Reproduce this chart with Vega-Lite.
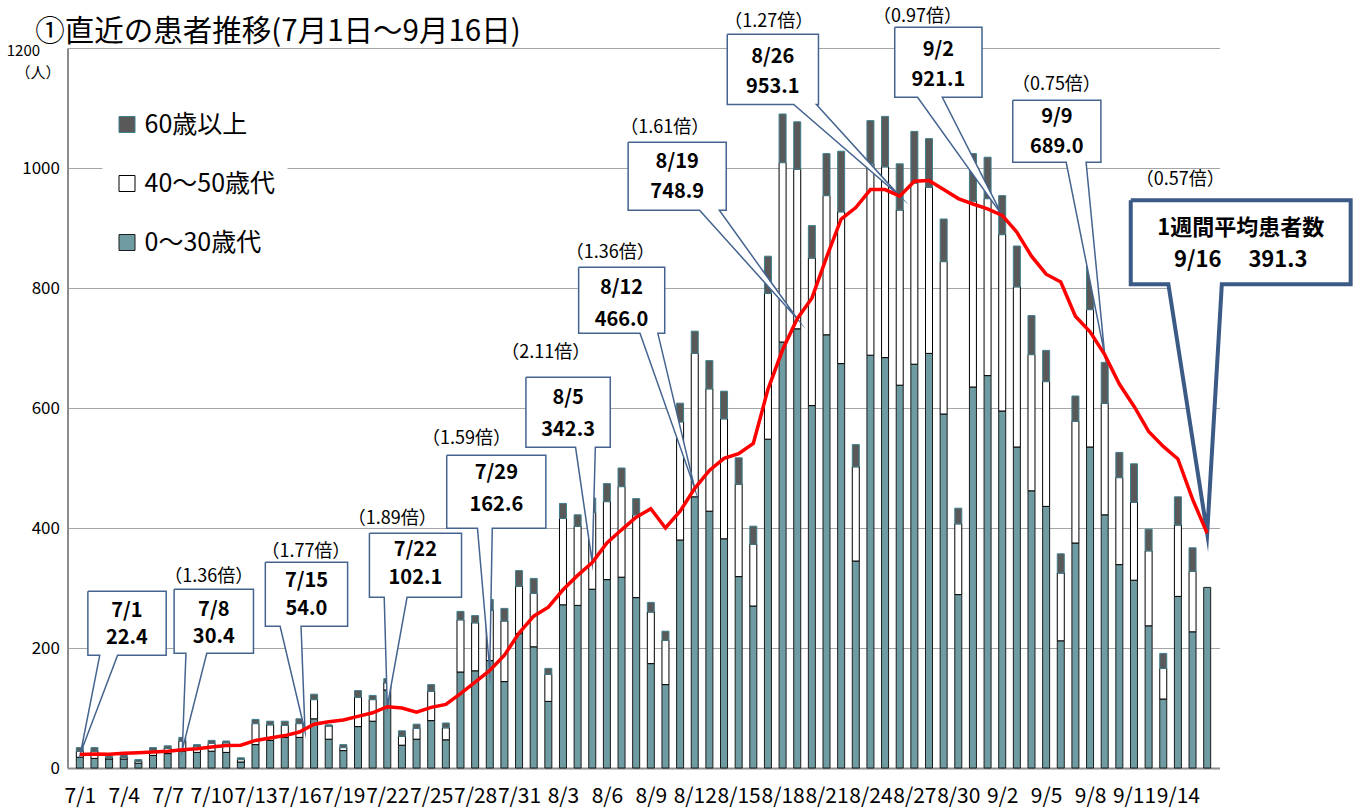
{
  "$schema": "https://vega.github.io/schema/vega-lite/v6.json",
  "width": 1152,
  "height": 720,
  "autosize": {"type": "none"},
  "padding": {"left": 67.5, "top": 48, "right": 144.5, "bottom": 39},
  "background": "white",
  "config": {
    "view": {"stroke": null},
    "font": "Noto Sans CJK JP",
    "axisX": {"grid": false, "ticks": false, "domainColor": "#8c8c8c", "domainWidth": 2, "labelFontSize": 21, "labelFont": "Noto Sans CJK JP", "labelColor": "#000000", "labelPadding": 17, "labelOverlap": false, "labelFlush": false, "labelBound": false},
    "axisY": {"grid": true, "gridColor": "#a6a6a6", "gridWidth": 1, "ticks": false, "domainColor": "#8c8c8c", "domainWidth": 2, "labelFontSize": 17, "labelFont": "Noto Sans CJK JP", "labelColor": "#000000", "labelPadding": 8, "titleAngle": 0, "titleX": -30, "titleY": 24, "titleFontSize": 15, "titleFontWeight": "normal", "titleAlign": "center", "titleBaseline": "middle", "titleColor": "#000000", "titleFont": "Noto Sans CJK JP"}
  },
  "datasets": {
    "days": [
      {"d":1,"g0":18,"g40":10,"g60":6,"avg":22.4},
      {"d":2,"g0":16,"g40":12,"g60":6,"avg":23.5},
      {"d":3,"g0":15,"g40":2,"g60":3,"avg":23},
      {"d":4,"g0":15,"g40":3,"g60":4,"avg":24.5},
      {"d":5,"g0":8,"g40":3,"g60":3,"avg":25.5},
      {"d":6,"g0":21,"g40":8,"g60":5,"avg":26.5},
      {"d":7,"g0":24,"g40":9,"g60":4,"avg":28},
      {"d":8,"g0":28,"g40":17,"g60":6,"avg":30.4},
      {"d":9,"g0":26,"g40":10,"g60":3,"avg":32},
      {"d":10,"g0":28,"g40":13,"g60":5,"avg":35},
      {"d":11,"g0":26,"g40":16,"g60":3,"avg":37.5},
      {"d":12,"g0":10,"g40":4,"g60":3,"avg":38},
      {"d":13,"g0":39,"g40":35,"g60":7,"avg":46},
      {"d":14,"g0":46,"g40":26,"g60":6,"avg":50},
      {"d":15,"g0":51,"g40":20,"g60":7,"avg":54.0},
      {"d":16,"g0":51,"g40":23,"g60":8,"avg":60},
      {"d":17,"g0":82,"g40":32,"g60":9,"avg":73},
      {"d":18,"g0":48,"g40":22,"g60":2,"avg":77},
      {"d":19,"g0":29,"g40":5,"g60":5,"avg":80},
      {"d":20,"g0":69,"g40":49,"g60":11,"avg":86},
      {"d":21,"g0":78,"g40":36,"g60":7,"avg":92},
      {"d":22,"g0":130,"g40":12,"g60":7,"avg":102.1},
      {"d":23,"g0":38,"g40":15,"g60":9,"avg":100},
      {"d":24,"g0":48,"g40":18,"g60":7,"avg":93},
      {"d":25,"g0":79,"g40":49,"g60":11,"avg":101},
      {"d":26,"g0":47,"g40":20,"g60":8,"avg":106},
      {"d":27,"g0":160,"g40":87,"g60":14,"avg":124},
      {"d":28,"g0":162,"g40":80,"g60":12,"avg":143},
      {"d":29,"g0":179,"g40":84,"g60":18,"avg":162.6},
      {"d":30,"g0":144,"g40":101,"g60":21,"avg":188},
      {"d":31,"g0":224,"g40":79,"g60":26,"avg":225},
      {"d":32,"g0":202,"g40":89,"g60":25,"avg":253},
      {"d":33,"g0":111,"g40":45,"g60":10,"avg":268},
      {"d":34,"g0":272,"g40":144,"g60":25,"avg":297},
      {"d":35,"g0":271,"g40":132,"g60":19,"avg":321},
      {"d":36,"g0":298,"g40":128,"g60":24,"avg":342.3},
      {"d":37,"g0":314,"g40":130,"g60":30,"avg":375},
      {"d":38,"g0":318,"g40":151,"g60":31,"avg":397},
      {"d":39,"g0":284,"g40":138,"g60":27,"avg":418},
      {"d":40,"g0":174,"g40":86,"g60":16,"avg":432},
      {"d":41,"g0":139,"g40":74,"g60":15,"avg":400},
      {"d":42,"g0":380,"g40":197,"g60":31,"avg":428},
      {"d":43,"g0":452,"g40":239,"g60":37,"avg":466.0},
      {"d":44,"g0":428,"g40":204,"g60":47,"avg":496},
      {"d":45,"g0":382,"g40":200,"g60":46,"avg":516},
      {"d":46,"g0":319,"g40":154,"g60":44,"avg":524},
      {"d":47,"g0":270,"g40":103,"g60":30,"avg":541},
      {"d":48,"g0":548,"g40":243,"g60":62,"avg":631},
      {"d":49,"g0":710,"g40":299,"g60":81,"avg":697},
      {"d":50,"g0":732,"g40":266,"g60":79,"avg":748.9},
      {"d":51,"g0":604,"g40":246,"g60":54,"avg":783},
      {"d":52,"g0":722,"g40":232,"g60":70,"avg":851},
      {"d":53,"g0":674,"g40":253,"g60":101,"avg":915},
      {"d":54,"g0":345,"g40":157,"g60":37,"avg":934},
      {"d":55,"g0":688,"g40":319,"g60":72,"avg":964},
      {"d":56,"g0":684,"g40":318,"g60":84,"avg":964},
      {"d":57,"g0":638,"g40":292,"g60":77,"avg":953.1},
      {"d":58,"g0":673,"g40":302,"g60":86,"avg":978},
      {"d":59,"g0":691,"g40":277,"g60":81,"avg":979},
      {"d":60,"g0":590,"g40":254,"g60":71,"avg":964},
      {"d":61,"g0":289,"g40":118,"g60":26,"avg":949},
      {"d":62,"g0":635,"g40":310,"g60":79,"avg":940},
      {"d":63,"g0":654,"g40":295,"g60":69,"avg":932},
      {"d":64,"g0":595,"g40":294,"g60":65,"avg":921.1},
      {"d":65,"g0":535,"g40":267,"g60":68,"avg":893},
      {"d":66,"g0":462,"g40":227,"g60":65,"avg":853},
      {"d":67,"g0":436,"g40":208,"g60":52,"avg":823},
      {"d":68,"g0":212,"g40":113,"g60":32,"avg":810},
      {"d":69,"g0":375,"g40":203,"g60":42,"avg":753},
      {"d":70,"g0":535,"g40":229,"g60":84,"avg":727},
      {"d":71,"g0":422,"g40":186,"g60":68,"avg":689.0},
      {"d":72,"g0":339,"g40":145,"g60":42,"avg":640},
      {"d":73,"g0":313,"g40":130,"g60":64,"avg":603},
      {"d":74,"g0":237,"g40":125,"g60":36,"avg":561},
      {"d":75,"g0":115,"g40":51,"g60":25,"avg":536},
      {"d":76,"g0":286,"g40":119,"g60":47,"avg":515},
      {"d":77,"g0":227,"g40":101,"g60":39,"avg":448},
      {"d":78,"g0":301,"g40":0,"g60":0,"avg":391.3}
    ],
    "callouts": [
      {"c":1,"k":0,"x":1.55,"y":294.5},{"c":1,"k":1,"x":6.90,"y":294.5},{"c":1,"k":2,"x":6.90,"y":187.8},{"c":1,"k":3,"x":3.58,"y":187.8},{"c":1,"k":4,"x":1.05,"y":25},{"c":1,"k":5,"x":2.36,"y":187.8},{"c":1,"k":6,"x":1.55,"y":187.8},{"c":1,"k":7,"x":1.55,"y":294.5},
      {"c":2,"k":0,"x":7.44,"y":297.8},{"c":2,"k":1,"x":12.86,"y":297.8},{"c":2,"k":2,"x":12.86,"y":191.2},{"c":2,"k":3,"x":9.67,"y":191.2},{"c":2,"k":4,"x":8.0,"y":30.4},{"c":2,"k":5,"x":8.25,"y":191.2},{"c":2,"k":6,"x":7.44,"y":191.2},{"c":2,"k":7,"x":7.44,"y":297.8},
      {"c":3,"k":0,"x":13.67,"y":342.8},{"c":3,"k":1,"x":19.29,"y":342.8},{"c":3,"k":2,"x":19.29,"y":236.2},{"c":3,"k":3,"x":16.11,"y":236.2},{"c":3,"k":4,"x":16.38,"y":61.2},{"c":3,"k":5,"x":14.68,"y":236.2},{"c":3,"k":6,"x":13.67,"y":236.2},{"c":3,"k":7,"x":13.67,"y":342.8},
      {"c":4,"k":0,"x":20.78,"y":391.2},{"c":4,"k":1,"x":27.07,"y":391.2},{"c":4,"k":2,"x":27.07,"y":284.5},{"c":4,"k":3,"x":23.35,"y":284.5},{"c":4,"k":4,"x":22.0,"y":102.1},{"c":4,"k":5,"x":21.79,"y":284.5},{"c":4,"k":6,"x":20.78,"y":284.5},{"c":4,"k":7,"x":20.78,"y":391.2},
      {"c":5,"k":0,"x":26.06,"y":521.2},{"c":5,"k":1,"x":32.83,"y":521.2},{"c":5,"k":2,"x":32.83,"y":399.5},{"c":5,"k":3,"x":29.17,"y":399.5},{"c":5,"k":4,"x":29.0,"y":162.6},{"c":5,"k":5,"x":28.16,"y":399.5},{"c":5,"k":6,"x":26.06,"y":399.5},{"c":5,"k":7,"x":26.06,"y":521.2},
      {"c":6,"k":0,"x":31.47,"y":651.2},{"c":6,"k":1,"x":37.23,"y":651.2},{"c":6,"k":2,"x":37.23,"y":534.5},{"c":6,"k":3,"x":36.21,"y":534.5},{"c":6,"k":4,"x":36.0,"y":342.3},{"c":6,"k":5,"x":34.86,"y":534.5},{"c":6,"k":6,"x":31.47,"y":534.5},{"c":6,"k":7,"x":31.47,"y":651.2},
      {"c":7,"k":0,"x":35.07,"y":834.5},{"c":7,"k":1,"x":40.95,"y":834.5},{"c":7,"k":2,"x":40.95,"y":724.5},{"c":7,"k":3,"x":40.48,"y":724.5},{"c":7,"k":4,"x":43.0,"y":466.0},{"c":7,"k":5,"x":39.26,"y":724.5},{"c":7,"k":6,"x":35.07,"y":724.5},{"c":7,"k":7,"x":35.07,"y":834.5},
      {"c":8,"k":0,"x":38.45,"y":1042.8},{"c":8,"k":1,"x":45.15,"y":1042.8},{"c":8,"k":2,"x":45.15,"y":929.5},{"c":8,"k":3,"x":44.68,"y":929.5},{"c":8,"k":4,"x":50.0,"y":748.9},{"c":8,"k":5,"x":43.33,"y":929.5},{"c":8,"k":6,"x":38.45,"y":929.5},{"c":8,"k":7,"x":38.45,"y":1042.8},
      {"c":9,"k":0,"x":45.22,"y":1222.8},{"c":9,"k":1,"x":51.45,"y":1222.8},{"c":9,"k":2,"x":51.45,"y":1105.8},{"c":9,"k":3,"x":51.31,"y":1105.8},{"c":9,"k":4,"x":57.0,"y":953.1},{"c":9,"k":5,"x":49.76,"y":1105.8},{"c":9,"k":6,"x":45.22,"y":1105.8},{"c":9,"k":7,"x":45.22,"y":1222.8},
      {"c":10,"k":0,"x":56.66,"y":1234.5},{"c":10,"k":1,"x":62.62,"y":1234.5},{"c":10,"k":2,"x":62.62,"y":1117.8},{"c":10,"k":3,"x":59.91,"y":1117.8},{"c":10,"k":4,"x":64.0,"y":921.1},{"c":10,"k":5,"x":58.22,"y":1117.8},{"c":10,"k":6,"x":56.66,"y":1117.8},{"c":10,"k":7,"x":56.66,"y":1234.5},
      {"c":11,"k":0,"x":64.72,"y":1112.8},{"c":11,"k":1,"x":70.74,"y":1112.8},{"c":11,"k":2,"x":70.74,"y":1009.5},{"c":11,"k":3,"x":69.73,"y":1009.5},{"c":11,"k":4,"x":71.0,"y":689.0},{"c":11,"k":5,"x":68.37,"y":1009.5},{"c":11,"k":6,"x":64.72,"y":1009.5},{"c":11,"k":7,"x":64.72,"y":1112.8}
    ],
    "callout12": [
      {"c":12,"k":0,"x":72.78,"y":946.2},{"c":12,"k":1,"x":87.8,"y":946.2},{"c":12,"k":2,"x":87.8,"y":806.2},{"c":12,"k":3,"x":79.0,"y":806.2},{"c":12,"k":4,"x":78.0,"y":391.3},{"c":12,"k":5,"x":75.35,"y":806.2},{"c":12,"k":6,"x":72.78,"y":806.2},{"c":12,"k":7,"x":72.78,"y":946.2}
    ],
    "boxtext": [
      {"x":4.22,"y":261,"t":"7/1"},{"x":4.22,"y":216,"t":"22.4"},
      {"x":10.15,"y":264,"t":"7/8"},{"x":10.15,"y":219,"t":"30.4"},
      {"x":16.48,"y":312,"t":"7/15"},{"x":16.48,"y":265,"t":"54.0"},
      {"x":23.92,"y":362.8,"t":"7/22"},{"x":23.92,"y":316.2,"t":"102.1"},
      {"x":29.45,"y":491.2,"t":"7/29"},{"x":29.45,"y":437.8,"t":"162.6"},
      {"x":34.35,"y":616.2,"t":"8/5"},{"x":34.35,"y":562.8,"t":"342.3"},
      {"x":38.0,"y":799.5,"t":"8/12"},{"x":38.0,"y":746.2,"t":"466.0"},
      {"x":41.8,"y":1009.5,"t":"8/19"},{"x":41.8,"y":959.5,"t":"748.9"},
      {"x":48.33,"y":1184.5,"t":"8/26"},{"x":48.33,"y":1134.5,"t":"953.1"},
      {"x":59.64,"y":1196.2,"t":"9/2"},{"x":59.64,"y":1146.2,"t":"921.1"},
      {"x":67.73,"y":1084.5,"t":"9/9"},{"x":67.73,"y":1034.5,"t":"689.0"}
    ],
    "boxtext12": [
      {"x":80.29,"y":899.5,"t":"1週間平均患者数"},{"x":80.29,"y":846.2,"t":"9/16　 391.3"}
    ],
    "ratios": [
      {"x":9.81,"y":317.8,"t":"（1.36倍）"},
      {"x":16.44,"y":359.5,"t":"（1.77倍）"},
      {"x":22.34,"y":414.5,"t":"（1.89倍）"},
      {"x":27.41,"y":547.8,"t":"（1.59倍）"},
      {"x":32.83,"y":691.2,"t":"（2.11倍）"},
      {"x":37.23,"y":857.8,"t":"（1.36倍）"},
      {"x":40.95,"y":1066.2,"t":"（1.61倍）"},
      {"x":48.06,"y":1244,"t":"（1.27倍）"},
      {"x":58.22,"y":1252,"t":"（0.97倍）"},
      {"x":67.7,"y":1137.8,"t":"（0.75倍）"},
      {"x":76.16,"y":979.5,"t":"（0.57倍）"}
    ],
    "heading": [
      {"x":-2.04,"y":1226,"t":"①直近の患者推移(7月1日〜9月16日)"}
    ],
    "toplabel": [
      {"x":-2.85,"y":1195,"t":"1200"}
    ]
  },
  "layer": [
    {
      "data": {"name": "days"},
      "transform": [{"fold": ["g0", "g40", "g60"], "as": ["grp", "n"]}, {"filter": "datum.n > 0"}],
      "mark": {"type": "bar", "width": 7, "strokeWidth": 1},
      "encoding": {
        "x": {"field": "d", "type": "quantitative", "scale": {"domain": [0.5, 78.5], "nice": false, "zero": false},
          "axis": {"values": [1,4,7,10,13,16,19,22,25,28,31,34,37,40,43,46,49,52,55,58,61,64,67,70,73,76], "labelExpr": "timeFormat(datetime(2021, 6, datum.value), '%-m/%-d')", "title": null}},
        "y": {"field": "n", "type": "quantitative", "stack": "zero", "scale": {"domain": [0, 1200], "nice": false},
          "axis": {"values": [0,200,400,600,800,1000,1200], "labelExpr": "datum.value == 1200 ? '' : format(datum.value, 'd')", "title": "（人）"}},
        "color": {"field": "grp", "type": "nominal",
          "scale": {"domain": ["g60", "g40", "g0"], "range": ["#595959", "#ffffff", "#6e9ca2"]},
          "legend": {"orient": "none", "legendX": 35, "legendY": 52, "title": null, "labelFontSize": 25, "labelFont": "Noto Sans CJK JP",
            "labelColor": "#000000", "symbolType": "square", "symbolSize": 256, "symbolStrokeWidth": 1, "rowPadding": 33,
            "padding": 12, "fillColor": "white", "labelOffset": 5,
            "labelExpr": "datum.label == 'g60' ? '60歳以上' : datum.label == 'g40' ? '40〜50歳代' : '0〜30歳代'"}},
        "stroke": {"field": "grp", "type": "nominal",
          "scale": {"domain": ["g60", "g40", "g0"], "range": ["#3f7f8c", "#000000", "#1d1d1d"]},
          "legend": {"orient": "none", "legendX": 35, "legendY": 52, "title": null, "labelFontSize": 25, "labelFont": "Noto Sans CJK JP",
            "labelColor": "#000000", "symbolType": "square", "symbolSize": 256, "symbolStrokeWidth": 1, "rowPadding": 33,
            "padding": 12, "fillColor": "white", "labelOffset": 5,
            "labelExpr": "datum.label == 'g60' ? '60歳以上' : datum.label == 'g40' ? '40〜50歳代' : '0〜30歳代'"}},
        "order": {"field": "grp", "sort": "ascending"}
      }
    },
    {
      "data": {"name": "callouts"},
      "mark": {"type": "line", "fill": "white", "stroke": "#44648f", "strokeWidth": 1.5, "strokeJoin": "miter", "strokeMiterLimit": 20},
      "encoding": {
        "x": {"field": "x", "type": "quantitative", "scale": {"domain": [0.5, 78.5], "nice": false, "zero": false},
          "axis": {"values": [1,4,7,10,13,16,19,22,25,28,31,34,37,40,43,46,49,52,55,58,61,64,67,70,73,76], "labelExpr": "timeFormat(datetime(2021, 6, datum.value), '%-m/%-d')", "title": null}},
        "y": {"field": "y", "type": "quantitative", "scale": {"domain": [0, 1200], "nice": false},
          "axis": {"values": [0,200,400,600,800,1000,1200], "labelExpr": "datum.value == 1200 ? '' : format(datum.value, 'd')", "title": "（人）"}},
        "detail": {"field": "c", "type": "nominal"},
        "order": {"field": "k", "type": "quantitative"}
      }
    },
    {
      "data": {"name": "callout12"},
      "mark": {"type": "line", "fill": "white", "stroke": "#3b5a85", "strokeWidth": 4, "strokeJoin": "miter", "strokeMiterLimit": 20},
      "encoding": {
        "x": {"field": "x", "type": "quantitative", "scale": {"domain": [0.5, 78.5], "nice": false, "zero": false},
          "axis": {"values": [1,4,7,10,13,16,19,22,25,28,31,34,37,40,43,46,49,52,55,58,61,64,67,70,73,76], "labelExpr": "timeFormat(datetime(2021, 6, datum.value), '%-m/%-d')", "title": null}},
        "y": {"field": "y", "type": "quantitative", "scale": {"domain": [0, 1200], "nice": false},
          "axis": {"values": [0,200,400,600,800,1000,1200], "labelExpr": "datum.value == 1200 ? '' : format(datum.value, 'd')", "title": "（人）"}},
        "order": {"field": "k", "type": "quantitative"}
      }
    },
    {
      "data": {"name": "days"},
      "mark": {"type": "line", "color": "#ff0000", "strokeWidth": 3.5},
      "encoding": {
        "x": {"field": "d", "type": "quantitative", "scale": {"domain": [0.5, 78.5], "nice": false, "zero": false},
          "axis": {"values": [1,4,7,10,13,16,19,22,25,28,31,34,37,40,43,46,49,52,55,58,61,64,67,70,73,76], "labelExpr": "timeFormat(datetime(2021, 6, datum.value), '%-m/%-d')", "title": null}},
        "y": {"field": "avg", "type": "quantitative", "scale": {"domain": [0, 1200], "nice": false},
          "axis": {"values": [0,200,400,600,800,1000,1200], "labelExpr": "datum.value == 1200 ? '' : format(datum.value, 'd')", "title": "（人）"}}
      }
    },
    {
      "data": {"name": "boxtext"},
      "mark": {"type": "text", "fontSize": 20, "fontWeight": "bold", "font": "Noto Sans CJK JP", "align": "center", "baseline": "middle", "color": "#000000"},
      "encoding": {
        "x": {"field": "x", "type": "quantitative", "scale": {"domain": [0.5, 78.5], "nice": false, "zero": false},
          "axis": {"values": [1,4,7,10,13,16,19,22,25,28,31,34,37,40,43,46,49,52,55,58,61,64,67,70,73,76], "labelExpr": "timeFormat(datetime(2021, 6, datum.value), '%-m/%-d')", "title": null}},
        "y": {"field": "y", "type": "quantitative", "scale": {"domain": [0, 1200], "nice": false},
          "axis": {"values": [0,200,400,600,800,1000,1200], "labelExpr": "datum.value == 1200 ? '' : format(datum.value, 'd')", "title": "（人）"}},
        "text": {"field": "t"}
      }
    },
    {
      "data": {"name": "boxtext12"},
      "mark": {"type": "text", "fontSize": 22, "fontWeight": "bold", "font": "Noto Sans CJK JP", "align": "center", "baseline": "middle", "color": "#000000"},
      "encoding": {
        "x": {"field": "x", "type": "quantitative", "scale": {"domain": [0.5, 78.5], "nice": false, "zero": false},
          "axis": {"values": [1,4,7,10,13,16,19,22,25,28,31,34,37,40,43,46,49,52,55,58,61,64,67,70,73,76], "labelExpr": "timeFormat(datetime(2021, 6, datum.value), '%-m/%-d')", "title": null}},
        "y": {"field": "y", "type": "quantitative", "scale": {"domain": [0, 1200], "nice": false},
          "axis": {"values": [0,200,400,600,800,1000,1200], "labelExpr": "datum.value == 1200 ? '' : format(datum.value, 'd')", "title": "（人）"}},
        "text": {"field": "t"}
      }
    },
    {
      "data": {"name": "ratios"},
      "mark": {"type": "text", "fontSize": 18, "font": "Noto Sans CJK JP", "align": "center", "baseline": "middle", "color": "#000000"},
      "encoding": {
        "x": {"field": "x", "type": "quantitative", "scale": {"domain": [0.5, 78.5], "nice": false, "zero": false},
          "axis": {"values": [1,4,7,10,13,16,19,22,25,28,31,34,37,40,43,46,49,52,55,58,61,64,67,70,73,76], "labelExpr": "timeFormat(datetime(2021, 6, datum.value), '%-m/%-d')", "title": null}},
        "y": {"field": "y", "type": "quantitative", "scale": {"domain": [0, 1200], "nice": false},
          "axis": {"values": [0,200,400,600,800,1000,1200], "labelExpr": "datum.value == 1200 ? '' : format(datum.value, 'd')", "title": "（人）"}},
        "text": {"field": "t"}
      }
    },
    {
      "data": {"name": "heading"},
      "mark": {"type": "text", "fontSize": 29.5, "font": "Noto Sans CJK JP", "align": "left", "baseline": "middle", "color": "#000000"},
      "encoding": {
        "x": {"field": "x", "type": "quantitative", "scale": {"domain": [0.5, 78.5], "nice": false, "zero": false},
          "axis": {"values": [1,4,7,10,13,16,19,22,25,28,31,34,37,40,43,46,49,52,55,58,61,64,67,70,73,76], "labelExpr": "timeFormat(datetime(2021, 6, datum.value), '%-m/%-d')", "title": null}},
        "y": {"field": "y", "type": "quantitative", "scale": {"domain": [0, 1200], "nice": false},
          "axis": {"values": [0,200,400,600,800,1000,1200], "labelExpr": "datum.value == 1200 ? '' : format(datum.value, 'd')", "title": "（人）"}},
        "text": {"field": "t"}
      }
    },
    {
      "data": {"name": "toplabel"},
      "mark": {"type": "text", "fontSize": 15, "font": "Noto Sans CJK JP", "align": "center", "baseline": "middle", "color": "#000000"},
      "encoding": {
        "x": {"field": "x", "type": "quantitative", "scale": {"domain": [0.5, 78.5], "nice": false, "zero": false},
          "axis": {"values": [1,4,7,10,13,16,19,22,25,28,31,34,37,40,43,46,49,52,55,58,61,64,67,70,73,76], "labelExpr": "timeFormat(datetime(2021, 6, datum.value), '%-m/%-d')", "title": null}},
        "y": {"field": "y", "type": "quantitative", "scale": {"domain": [0, 1200], "nice": false},
          "axis": {"values": [0,200,400,600,800,1000,1200], "labelExpr": "datum.value == 1200 ? '' : format(datum.value, 'd')", "title": "（人）"}},
        "text": {"field": "t"}
      }
    }
  ]
}
